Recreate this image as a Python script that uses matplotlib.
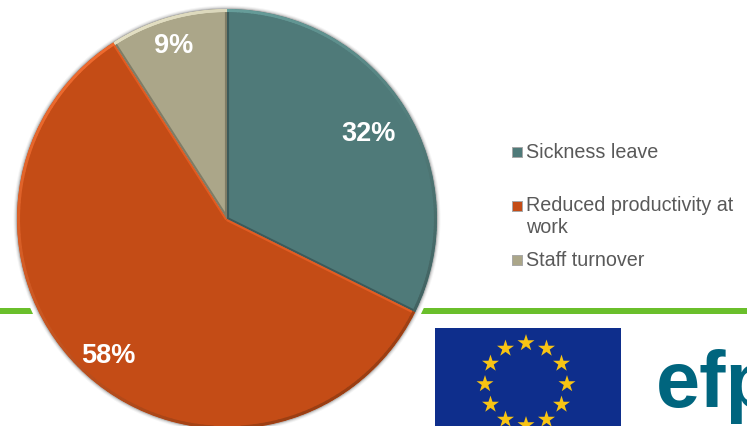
import matplotlib
matplotlib.use("Agg")
import matplotlib.pyplot as plt
from matplotlib.collections import LineCollection
from matplotlib.colors import to_rgb
from matplotlib.patches import Circle, Rectangle
import numpy as np

categories = ["Sickness leave", "Reduced productivity at\nwork", "Staff turnover"]
values = [32, 58, 9]
colors = ["#4f7a79", "#c44c16", "#aba689"]
edge_light = ["#6aa3a0", "#ee6a2e", "#e2dec2"]
edge_dark = ["#3f5e5d", "#9a3e13", "#7f7c66"]
side_color = ["#3c5a5a", "#e25c22", "#7f7c66"]

WIDTH, HEIGHT = 747, 427
plt.rcParams["font.family"] = ["Liberation Sans", "DejaVu Sans"]

fig = plt.figure(figsize=(WIDTH / 100, HEIGHT / 100), dpi=100, facecolor="white")
ax = fig.add_axes([0, 0, 1, 1])


def set_view():
    ax.set_xlim(0, WIDTH)
    ax.set_ylim(HEIGHT - 1, -1)
    ax.set_aspect("auto")
    ax.axis("off")


set_view()

# Green divider running behind the pie
ax.add_patch(Rectangle((0, 308), WIDTH, 6, facecolor="#6abf2b", edgecolor="none", zorder=1))

# White halo and soft shadow round the pie
cx, cy, r = 227, 219, 210
ax.add_patch(Circle((cx, cy), r + 6, facecolor="white", edgecolor="none", zorder=2))
for grow, alpha in zip([3.5, 2.5, 1.5, 0.8], [0.06, 0.1, 0.15, 0.22]):
    ax.add_patch(Circle((cx, cy), r + grow, facecolor="#555555", edgecolor="none",
                        alpha=alpha, zorder=2.1))

# Pie slices; the inverted y axis makes angles run clockwise from the top
wedges, _ = ax.pie(values, colors=colors, startangle=-90, counterclock=True,
                   center=(cx, cy), radius=r, frame=False,
                   wedgeprops=dict(linewidth=0, zorder=3))
set_view()

# Bevel: the rim of each slice is lit from the upper left and falls off to the lower right
for w, light, dark, side in zip(wedges, edge_light, edge_dark, side_color):
    t = np.deg2rad(np.linspace(w.theta1, w.theta2, 121))
    px = cx + (r - 1.5) * np.cos(t)
    py = cy + (r - 1.5) * np.sin(t)
    segs = np.stack([np.column_stack([px[:-1], py[:-1]]),
                     np.column_stack([px[1:], py[1:]])], axis=1)
    tm = (t[:-1] + t[1:]) / 2
    lit = np.clip(0.5 - 0.5 * (np.cos(tm) * 0.55 + np.sin(tm) * 0.85), 0, 1)[:, None]
    seg_colors = lit * np.array(to_rgb(light)) + (1 - lit) * np.array(to_rgb(dark))
    arc = LineCollection(segs, colors=seg_colors, linewidths=2.2, zorder=4, capstyle="round")
    ax.add_collection(arc)
    arc.set_clip_path(w)
    for theta in (w.theta1, w.theta2):
        a = np.deg2rad(theta)
        ax.plot([cx, cx + r * np.cos(a)], [cy, cy + r * np.sin(a)], color=side,
                linewidth=3.0, solid_capstyle="butt", zorder=3.5, clip_path=w)

# Percentage labels
label_pos = [(369, 133), (108, 355), (174, 45)]
for v, (x, y) in zip(values, label_pos):
    ax.text(x, y, f"{v}%", color="white", fontsize=19.5, fontweight="bold",
            ha="center", va="center", zorder=6)

# Legend entries
marker_y = [152, 206, 260]
text_y = [152, 215.5, 260]
for cat, col, my, ty in zip(categories, colors, marker_y, text_y):
    ax.scatter([517], [my], marker="s", s=55, color=col, edgecolors="#a8a8a8",
               linewidths=0.7, zorder=5)
    ax.text(526, ty, cat, color="#595959", fontsize=14.2, ha="left", va="center",
            linespacing=1.22, zorder=5)

# EU flag
ax.add_patch(Rectangle((435, 328), 186, 110, facecolor="#0e2e8c", edgecolor="none", zorder=2))
fx, fy, fr = 526, 384, 41
ang = np.deg2rad(np.arange(0, 360, 30))
ax.scatter(fx + fr * np.sin(ang), fy - fr * np.cos(ang), marker="*", s=165,
           color="#f8c414", edgecolors="none", zorder=3)

# Organisation logotype, running off the right edge
ax.text(656, 406, "efp", color="#00657e", fontsize=57, fontweight="bold",
        ha="left", va="baseline", zorder=3)

fig.savefig("out.png", dpi=100, facecolor="white")
